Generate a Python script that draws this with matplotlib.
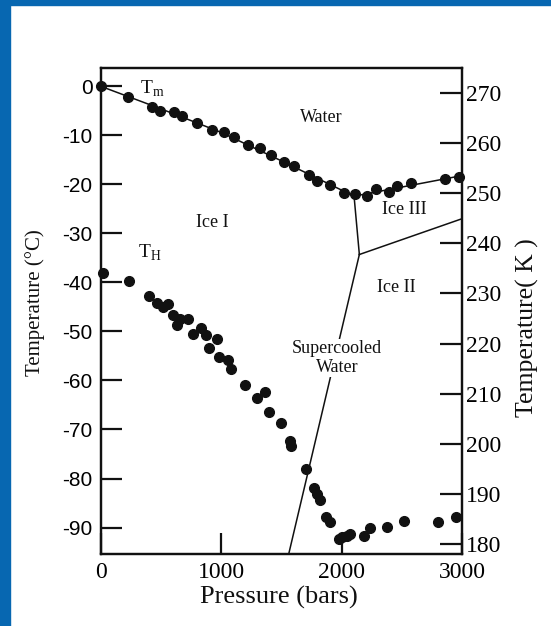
import matplotlib.pyplot as plt
from matplotlib.patches import Rectangle

plt.rcParams['mathtext.fontset'] = 'custom'
plt.rcParams['mathtext.rm'] = 'Liberation Serif'

# melting temperature Tm (pressure in bars, temperature in deg C)
tm_p = [0, 221, 420, 490, 608, 670, 797, 919, 1023, 1107, 1223, 1320, 1411, 1521,
        1604, 1729, 1798, 1903, 2019, 2108, 2207, 2288, 2393, 2462, 2578, 2855, 2974]
tm_t = [0, -2.2, -4.3, -5.0, -5.2, -6.0, -7.5, -8.8, -9.4, -10.4, -12.0, -12.6, -14.1, -15.5,
        -16.2, -18.0, -19.4, -20.1, -21.8, -21.9, -22.3, -20.9, -21.6, -20.3, -19.7, -18.8, -18.4]

# homogeneous nucleation temperature TH
th_p = [18, 230, 395, 463, 518, 560, 600, 628, 656, 725, 767, 828, 871, 896, 960, 982,
        1057, 1077, 1195, 1298, 1361, 1394, 1494, 1572, 1583, 1707, 1768, 1796, 1818,
        1873, 1901, 1975, 2005, 2044, 2067, 2183, 2233, 2379, 2515, 2799, 2946]
th_t = [-38.0, -39.7, -42.7, -44.2, -45.0, -44.4, -46.7, -48.6, -47.4, -47.4, -50.5, -49.3,
        -50.8, -53.4, -51.6, -55.2, -55.9, -57.6, -60.9, -63.6, -62.4, -66.5, -68.7, -72.4,
        -73.4, -78.1, -82.0, -83.1, -84.3, -87.9, -88.8, -92.4, -92.0, -91.7, -91.3, -91.7,
        -90.1, -89.8, -88.6, -88.9, -87.9]

# phase boundaries
melt_p = [0, 500, 1000, 1500, 2103, 3000]
melt_t = [0, -4.6, -9.4, -15.2, -22.4, -18.2]
i1_i3_p = [2103, 2147]
i1_i3_t = [-22.4, -34.3]
i2_i3_p = [2147, 3000]
i2_i3_t = [-34.3, -27.0]
i1_i2_p = [2147, 1560]
i1_i2_t = [-34.3, -95.4]

serif = 'Liberation Serif'
sans = 'Liberation Sans'

fig = plt.figure(figsize=(5.51, 6.26), dpi=100)
fig.patches.append(Rectangle((0, 0), 10 / 551, 1, transform=fig.transFigure,
                             color='#0767b1', zorder=0))
fig.patches.append(Rectangle((0, 1 - 5 / 626), 1, 5 / 626, transform=fig.transFigure,
                             color='#0767b1', zorder=0))

ax = fig.add_axes([101 / 551, 1 - 554 / 626, 361 / 551, 486 / 626])
ax.set_xlim(0, 3000)
ax.set_ylim(-95.4, 3.75)

lc = '#111111'
ax.plot(melt_p, melt_t, color=lc, lw=1.1)
ax.plot(i1_i3_p, i1_i3_t, color=lc, lw=1.1)
ax.plot(i2_i3_p, i2_i3_t, color=lc, lw=1.1)
ax.plot(i1_i2_p, i1_i2_t, color=lc, lw=1.1)
ax.plot(tm_p, tm_t, 'o', color=lc, ms=7, clip_on=False, zorder=4)
ax.plot(th_p, th_t, 'o', color=lc, ms=7, clip_on=False, zorder=4)

tkw = dict(family=serif, color=lc)
ax.text(325, -0.5, r'T$_\mathrm{m}$', fontsize=14, ha='left', va='center', **tkw)
ax.text(305, -34.0, r'T$_\mathrm{H}$', fontsize=14, ha='left', va='center', **tkw)
ax.text(1830, -6.4, 'Water', fontsize=13, ha='center', va='center', **tkw)
ax.text(925, -27.7, 'Ice I', fontsize=13, ha='center', va='center', **tkw)
ax.text(2520, -25.2, 'Ice III', fontsize=13, ha='center', va='center', **tkw)
ax.text(2450, -41.1, 'Ice II', fontsize=13, ha='center', va='center', **tkw)
ax.text(1960, -55.4, 'Supercooled\nWater', fontsize=13, ha='center', va='center',
        linespacing=1.1, zorder=5,
        bbox=dict(facecolor='white', edgecolor='none', pad=1), **tkw)

for s in ax.spines.values():
    s.set_linewidth(1.6)
    s.set_color(lc)

ax.set_xticks([0, 1000, 2000, 3000])
ax.set_yticks(range(-90, 1, 10))
ax.tick_params(axis='both', direction='in', length=15, width=1.6, color=lc, pad=6,
               right=False, top=False)
for lab in ax.get_xticklabels():
    lab.set_family(serif)
    lab.set_fontsize(17)
ax.set_yticklabels([str(v) for v in range(-90, 1, 10)])
for lab in ax.get_yticklabels():
    lab.set_family(sans)
    lab.set_fontsize(15)

ax2 = ax.twinx()
ax2.set_ylim(178.0, 275.0)
ax2.set_yticks(range(180, 271, 10))
ax2.tick_params(axis='y', direction='in', length=16, width=1.6, color=lc, pad=3,
                left=False)
for lab in ax2.get_yticklabels():
    lab.set_family(serif)
    lab.set_fontsize(17)
for s in ax2.spines.values():
    s.set_linewidth(1.6)
    s.set_color(lc)

fig.text(35 / 551, 1 - 303 / 626, 'Temperature (°C)', rotation=90, ha='center',
         va='center', fontsize=15, family=serif, color=lc)
fig.text(527 / 551, 1 - 328 / 626, 'Temperature( K )', rotation=90, ha='center',
         va='center', fontsize=18.5, family=serif, color=lc)
fig.text(279 / 551, 1 - 597 / 626, 'Pressure (bars)', ha='center', va='center',
         fontsize=19, family=serif, color=lc)

fig.savefig('out.png', dpi=100)
